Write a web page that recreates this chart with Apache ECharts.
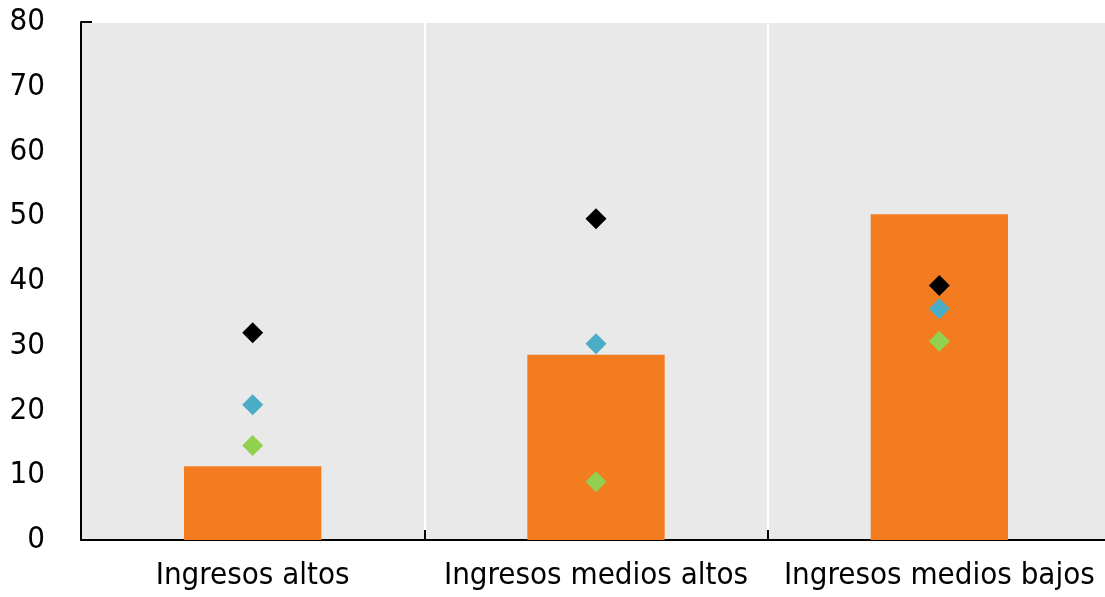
<!DOCTYPE html>
<html>
<head>
<meta charset="utf-8">
<script src="https://cdn.jsdelivr.net/npm/echarts@6/dist/echarts.min.js"></script>
<style>
html,body{margin:0;padding:0;background:#fff;}
#chart{width:1105px;height:597px;}
</style>
</head>
<body>
<div id="chart"></div>
<script>
const categories = ['Ingresos altos', 'Ingresos medios altos', 'Ingresos medios bajos'];
const barValues = [11.4, 28.6, 50.3];
const blackValues = [32.0, 49.6, 39.3];
const blueValues = [20.9, 30.3, 35.7];
const greenValues = [14.6, 9.0, 30.7];
const yTicks = { min: 0, max: 80, interval: 10 };

const FONT = '"Liberation Sans Narrow", "DejaVu Sans Condensed", "Liberation Sans", sans-serif';

const chart = echarts.init(document.getElementById('chart'), null, { renderer: 'canvas' });

function diamond(name, data, color) {
  return {
    name: name,
    type: 'scatter',
    data: data,
    symbol: 'diamond',
    symbolSize: [21, 21],
    itemStyle: { color: color, opacity: 1 },
    z: 5
  };
}

chart.setOption({
  animation: false,
  backgroundColor: '#ffffff',
  grid: {
    left: 81, right: -6, top: 22, bottom: 57,
    outerBoundsMode: 'none',
    containLabel: false,
    show: true, backgroundColor: '#E9E9E9', borderWidth: 0
  },
  xAxis: {
    type: 'category',
    data: categories,
    boundaryGap: true,
    axisLine: { show: true, lineStyle: { color: '#000', width: 2 } },
    axisTick: { show: true, inside: true, length: 10, lineStyle: { color: '#000', width: 2 } },
    splitLine: { show: true, lineStyle: { color: '#ffffff', width: 2 } },
    axisLabel: { color: '#000', fontSize: 31, fontFamily: FONT, margin: 20, interval: 0, hideOverlap: false }
  },
  yAxis: {
    type: 'value',
    min: yTicks.min, max: yTicks.max, interval: yTicks.interval,
    axisLine: { show: true, lineStyle: { color: '#000', width: 2 } },
    axisTick: { show: true, inside: true, length: 11, customValues: [80], lineStyle: { color: '#000', width: 2 } },
    splitLine: { show: true, lineStyle: { color: '#ffffff', width: 2 } },
    axisLabel: { color: '#000', fontSize: 31, fontFamily: FONT, margin: 36 }
  },
  series: [
    {
      type: 'bar',
      data: barValues,
      barWidth: '40%',
      itemStyle: { color: '#F47C20' },
      z: 2
    },
    diamond('black', blackValues, '#000000'),
    diamond('blue', blueValues, '#4BACC6'),
    diamond('green', greenValues, '#92D050')
  ]
});
</script>
</body>
</html>
